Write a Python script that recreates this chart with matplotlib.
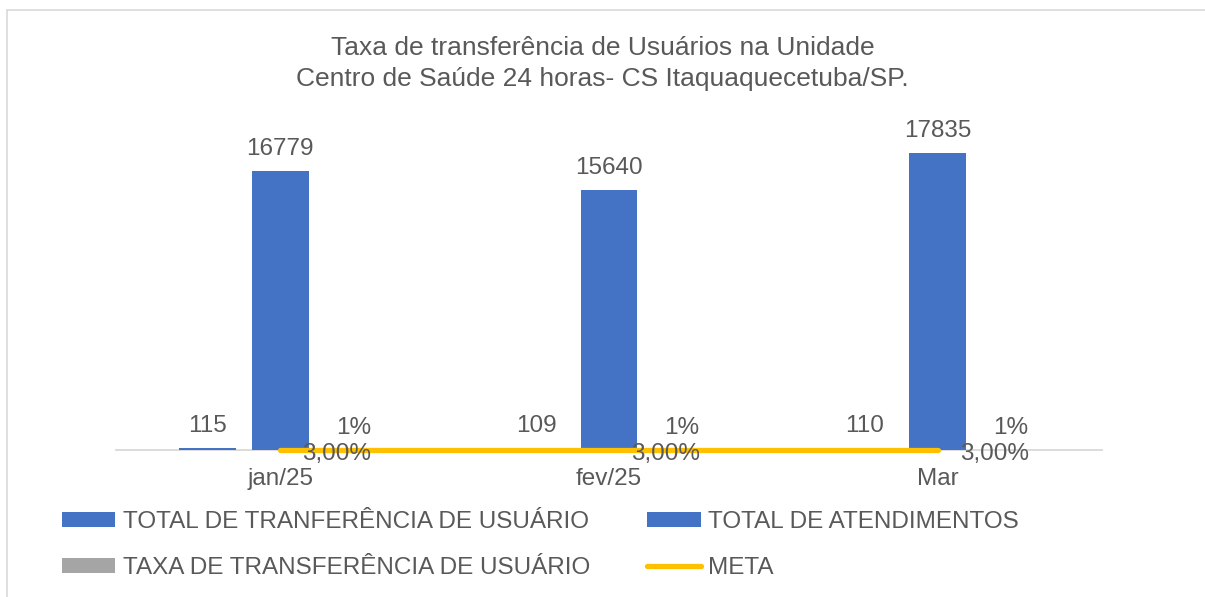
import numpy as np
import matplotlib.pyplot as plt
from matplotlib.patches import Rectangle

plt.rcParams['font.family'] = ['Liberation Sans', 'DejaVu Sans']

# data
meses = ['jan/25', 'fev/25', 'Mar']
transferencias = [115, 109, 110]
atendimentos = [16779, 15640, 17835]
taxa = [t / a for t, a in zip(transferencias, atendimentos)]
meta = [0.03, 0.03, 0.03]

azul = '#4472C4'
cinza = '#A5A5A5'
amarelo = '#FFC000'
texto = '#595959'
fs = 17.5

fig = plt.figure(figsize=(12.05, 5.97), dpi=100)
ax = fig.add_axes([116 / 1205, 1 - 450 / 597, 986 / 1205, 332.6 / 597])

x = np.arange(len(meses))
w = 0.173
d = 0.222

b1 = ax.bar(x - d, transferencias, w, color=azul, label='TOTAL DE TRANFERÊNCIA DE USUÁRIO', zorder=2)
b2 = ax.bar(x, atendimentos, w, color=azul, label='TOTAL DE ATENDIMENTOS', zorder=2)
b3 = ax.bar(x + d, taxa, w, color=cinza, label='TAXA DE TRANSFERÊNCIA DE USUÁRIO', zorder=2)
ln, = ax.plot(x, meta, color=amarelo, lw=3.8, solid_capstyle='round', label='META',
              zorder=4, clip_on=False)

# data labels
for xi, v in zip(x - d, transferencias):
    ax.annotate(str(v), (xi, v), xytext=(0, 8), textcoords='offset points',
                ha='center', va='bottom', fontsize=fs, color=texto)
for xi, v in zip(x, atendimentos):
    ax.annotate(str(v), (xi, v), xytext=(0, 8), textcoords='offset points',
                ha='center', va='bottom', fontsize=fs, color=texto)
for xi, v in zip(x + d, taxa):
    ax.annotate(f'{v:.0%}', (xi, v), xytext=(0, 8), textcoords='offset points',
                ha='center', va='bottom', fontsize=fs, color=texto)
for xi, v in zip(x, meta):
    ax.annotate(f'{v * 100:.2f}%'.replace('.', ','), (xi, v), xytext=(16, -3),
                textcoords='offset points', ha='left', va='center',
                fontsize=fs, color=texto, zorder=5)

ax.set_xlim(-0.5, 2.5)
ax.set_ylim(0, 20000)
ax.set_xticks(x)
ax.set_xticklabels(meses, fontsize=fs, color=texto)
ax.tick_params(axis='x', length=0, pad=13)
ax.set_yticks([])
for s in ['left', 'right', 'top']:
    ax.spines[s].set_visible(False)
ax.spines['bottom'].set_color('#D9D9D9')
ax.spines['bottom'].set_linewidth(1.3)
ax.spines['bottom'].set_zorder(1)

fig.text(0.5, 1 - 63.5 / 597,
         'Taxa de transferência de Usuários na Unidade\nCentro de Saúde 24 horas- CS Itaquaquecetuba/SP.',
         ha='center', va='center', fontsize=19, color=texto, linespacing=1.4)

leg = fig.legend([b1, b3, b2, ln],
                 ['TOTAL DE TRANFERÊNCIA DE USUÁRIO', 'TAXA DE TRANSFERÊNCIA DE USUÁRIO',
                  'TOTAL DE ATENDIMENTOS', 'META'],
                 ncol=2, loc='upper left', bbox_to_anchor=(62 / 1205, 1 - 511 / 597),
                 frameon=False, fontsize=fs, handlelength=2.2, handleheight=0.55,
                 handletextpad=0.3, columnspacing=2.35, labelspacing=1.0,
                 borderaxespad=0, borderpad=0)
for t in leg.get_texts():
    t.set_color(texto)

# outer chart border
fig.patches.append(Rectangle((7 / 1205, -0.1), 1.2, 1 - 10 / 597 + 0.1,
                             transform=fig.transFigure, fill=False,
                             edgecolor='#D9D9D9', lw=1.2))

fig.savefig('out.png', dpi=100)
